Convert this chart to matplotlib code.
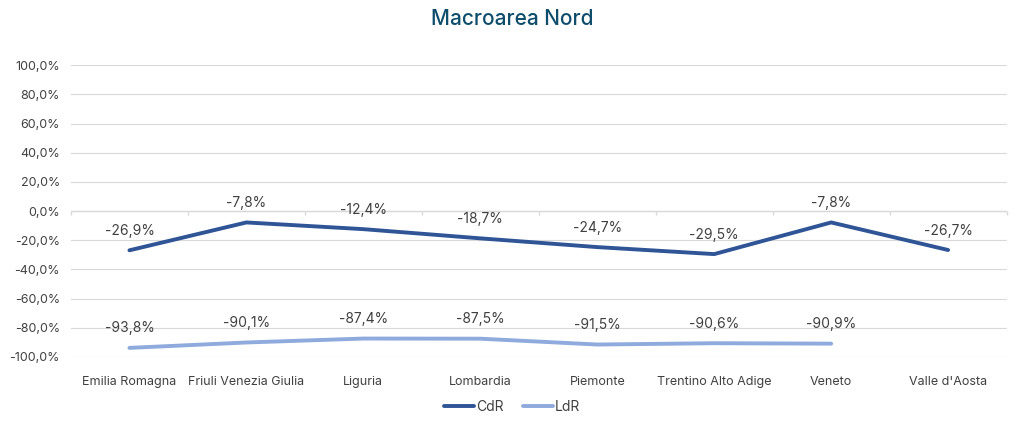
import matplotlib

matplotlib.use("Agg")
import matplotlib.pyplot as plt
from matplotlib.ticker import FuncFormatter

plt.rcParams["font.family"] = ["Inter", "DejaVu Sans"]

regions = [
    "Emilia Romagna",
    "Friuli Venezia Giulia",
    "Liguria",
    "Lombardia",
    "Piemonte",
    "Trentino Alto Adige",
    "Veneto",
    "Valle d'Aosta",
]
cdr = [-26.9, -7.8, -12.4, -18.7, -24.7, -29.5, -7.8, -26.7]
ldr = [-93.8, -90.1, -87.4, -87.5, -91.5, -90.6, -90.9]

CDR_COLOR = "#2F5597"
LDR_COLOR = "#8FAADC"
TEXT_COLOR = "#404040"
GRID_COLOR = "#D9D9D9"


def pct(v):
    return f"{v:.1f}%".replace(".", ",")


fig = plt.figure(figsize=(10.24, 4.29), dpi=100, facecolor="white")
ax = fig.add_axes([0.0693, 0.168, 0.9137, 0.680])

x = list(range(len(regions)))
ax.plot(x, cdr, color=CDR_COLOR, lw=2.8, solid_capstyle="round", label="CdR", zorder=3)
ax.plot(x[: len(ldr)], ldr, color=LDR_COLOR, lw=2.8, solid_capstyle="round", label="LdR", zorder=3)

for xi, v in zip(x, cdr):
    ax.annotate(pct(v), (xi, v), xytext=(0, 9), textcoords="offset points",
                ha="center", va="bottom", fontsize=10, color=TEXT_COLOR)
for xi, v in zip(x, ldr):
    ax.annotate(pct(v), (xi, v), xytext=(0, 9), textcoords="offset points",
                ha="center", va="bottom", fontsize=10, color=TEXT_COLOR)

ax.set_xlim(-0.5, len(regions) - 0.5)
ax.set_ylim(-100, 100)
ax.set_yticks(range(-100, 101, 20))
ax.yaxis.set_major_formatter(FuncFormatter(lambda v, _: pct(v)))
ax.set_xticks(x)
ax.set_xticklabels(regions)
ax.tick_params(axis="both", length=0, labelsize=9, colors=TEXT_COLOR)
ax.tick_params(axis="x", pad=14)
ax.tick_params(axis="y", pad=8)
ax.grid(axis="y", color=GRID_COLOR, lw=0.8)
ax.set_axisbelow(True)
for s in ax.spines.values():
    s.set_visible(False)

# category axis along the zero line, with small ticks hanging below it
ax.axhline(0, color=GRID_COLOR, lw=1.0, zorder=1)
ax.vlines([i - 0.5 for i in range(len(regions) + 1)], -2.8, 0,
          color=GRID_COLOR, lw=1.0, zorder=1, clip_on=False)

fig.text(0.5, 0.955, "Macroarea Nord", ha="center", va="center",
         fontsize=15, fontweight="medium", color="#0E4D6B")

fig.legend(loc="center", bbox_to_anchor=(0.5, 0.052), ncol=2, frameon=False,
           fontsize=10, handlelength=2.2, handletextpad=0.1, columnspacing=1.4,
           labelcolor=TEXT_COLOR)

fig.savefig("out.png", dpi=100)
